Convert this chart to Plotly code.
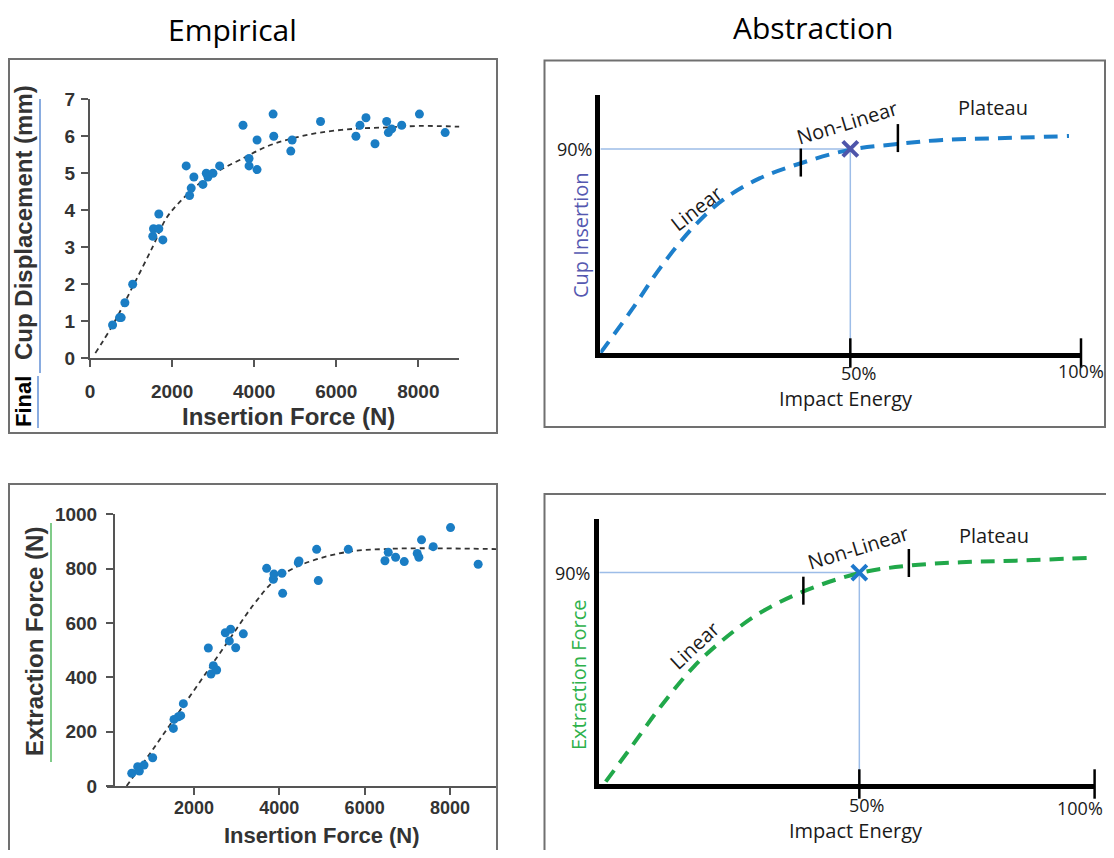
import plotly.graph_objects as go

# The page body keeps its default 8px margin, so the figure is 16px smaller than the window
OX, OY = 8, 8
FW, FH = 1098, 842

# ---------------- data ----------------
# Empirical, top: insertion force (N) vs final cup displacement (mm)
cup_force = [550, 720, 760, 850, 1040, 1530, 1547, 1677, 1677, 1775, 2344, 2426, 2466, 2531,
             2751, 2833, 2873, 2995, 3158, 3728, 3875, 3875, 4070, 4070, 4461, 4477, 4892,
             4925, 5617, 6479, 6577, 6724, 6944, 7228, 7269, 7350, 7594, 8026, 8653]
cup_disp = [0.9, 1.1, 1.1, 1.5, 2.0, 3.3, 3.5, 3.5, 3.9, 3.2, 5.2, 4.4, 4.6, 4.9,
            4.7, 5.0, 4.9, 5.0, 5.2, 6.3, 5.4, 5.2, 5.1, 5.9, 6.6, 6.0, 5.6,
            5.9, 6.4, 6.0, 6.3, 6.5, 5.8, 6.4, 6.1, 6.2, 6.3, 6.6, 6.1]
cup_fit_x = [130, 554, 1042, 1530, 1856, 2182, 2670, 3158, 3647, 4298, 4949, 5600, 6414, 7228, 8042, 9000]
cup_fit_y = [0.14, 0.9, 1.94, 3.02, 3.78, 4.22, 4.73, 5.08, 5.36, 5.72, 5.95, 6.10, 6.20, 6.24, 6.28, 6.26]

# Empirical, bottom: insertion force (N) vs extraction force (N)
ext_force = [540, 680, 719, 828, 1031, 1516, 1531, 1633, 1688, 1750, 2336, 2398, 2453, 2531,
             2734, 2828, 2859, 2977, 3156, 3703, 3859, 3875, 4062, 4078, 4445, 4461, 4875,
             4914, 5617, 6476, 6554, 6726, 6929, 7233, 7272, 7334, 7608, 8014, 8662]
ext_vals = [47, 71, 55, 77, 104, 212, 245, 255, 259, 303, 508, 412, 443, 427,
            564, 534, 577, 509, 560, 801, 761, 780, 783, 709, 822, 828, 871,
            756, 871, 829, 860, 842, 826, 856, 842, 906, 881, 951, 816]
ext_fit_x = [420, 969, 1516, 2141, 2766, 3390, 3859, 4328, 4952, 5655, 6436, 7295, 9080]
ext_fit_y = [0, 120, 243, 384, 525, 666, 752, 801, 838, 863, 872, 875, 872]

cup_xticks = [0, 2000, 4000, 6000, 8000]
cup_yticks = [0, 1, 2, 3, 4, 5, 6, 7]
ext_xticks = [2000, 4000, 6000, 8000]
ext_yticks = [0, 200, 400, 600, 800, 1000]

# Abstraction, top: impact energy (%) vs cup insertion (%)
abs_top_x = [0, 6.5, 12.6, 19.4, 25.5, 33.1, 41.7, 51.8, 61.9, 71.2, 82.6, 97.5]
abs_top_y = [0, 19, 38, 55.7, 67.5, 77, 83.7, 89.6, 92.2, 94, 94.7, 95.7]
abs_top_stage_x = [41.7, 61.9]
abs_top_stage_y = [84.0, 94.8]
abs_top_mark = [52.0, 90.0]

# Abstraction, bottom: impact energy (%) vs extraction force (%)
abs_bot_x = [1.3, 6.5, 12.4, 19.1, 25.0, 32.4, 41.2, 52.7, 62.7, 73.0, 84.1, 98.9]
abs_bot_y = [1, 15.9, 33, 50, 61.4, 72.8, 82, 89.9, 93, 94.4, 95.1, 96.3]
abs_bot_stage_x = [41.2, 62.5]
abs_bot_stage_y = [82.3, 94.1]
abs_bot_mark = [52.5, 90.0]

abs_axis_ticks_top = [52.0, 100]
abs_axis_ticks_bot = [52.5, 100]

# ---------------- helpers (window pixels -> paper fractions) ----------------
def fx(px):
    return (px - OX) / FW

def fy(py):
    return 1 - (py - OY) / FH

DOT = "#1a7dc4"
BLUE_CURVE = "#1d7fcb"
GREEN_CURVE = "#21a84a"
GUIDE = "#9dbde8"
EMP_FONT = "Liberation Sans, Arial, sans-serif"
ABS_FONT = "Open Sans, sans-serif"

fig = go.Figure()

# ---- panel 1
fig.add_trace(go.Scatter(x=cup_fit_x, y=cup_fit_y, mode="lines", line=dict(color="#333333", width=1.8, dash="5px,4px", shape="spline"),
                         xaxis="x", yaxis="y", hoverinfo="skip"))
fig.add_trace(go.Scatter(x=cup_force, y=cup_disp, mode="markers", marker=dict(color=DOT, size=9),
                         xaxis="x", yaxis="y", cliponaxis=False))
# ---- panel 2
fig.add_trace(go.Scatter(x=ext_fit_x, y=ext_fit_y, mode="lines", line=dict(color="#333333", width=1.8, dash="5px,4px", shape="spline"),
                         xaxis="x2", yaxis="y2", hoverinfo="skip"))
fig.add_trace(go.Scatter(x=ext_force, y=ext_vals, mode="markers", marker=dict(color=DOT, size=9),
                         xaxis="x2", yaxis="y2", cliponaxis=False))

# ---- panel 3 / 4 (abstraction)
def abstraction(xa, ya, cx, cy, color, stx, sty, mark, xcolor, axticks):
    fig.add_trace(go.Scatter(x=[0, mark[0], mark[0]], y=[mark[1], mark[1], 0], mode="lines",
                             line=dict(color=GUIDE, width=1.5), xaxis=xa, yaxis=ya, hoverinfo="skip"))
    fig.add_trace(go.Scatter(x=cx, y=cy, mode="lines", line=dict(color=color, width=4, dash="14px,9px", shape="spline"),
                             xaxis=xa, yaxis=ya, cliponaxis=False, hoverinfo="skip"))
    fig.add_trace(go.Scatter(x=stx, y=sty, mode="markers",
                             marker=dict(symbol="line-ns", size=20, line=dict(color="black", width=2.5)),
                             xaxis=xa, yaxis=ya, cliponaxis=False))
    fig.add_trace(go.Scatter(x=axticks, y=[0] * len(axticks), mode="markers",
                             marker=dict(symbol="line-ns", size=21, line=dict(color="black", width=2.5)),
                             xaxis=xa, yaxis=ya, cliponaxis=False))
    fig.add_trace(go.Scatter(x=[mark[0]], y=[mark[1]], mode="markers",
                             marker=dict(symbol="x-thin", size=15, line=dict(color=xcolor, width=4)),
                             xaxis=xa, yaxis=ya, cliponaxis=False))

abstraction("x3", "y3", abs_top_x, abs_top_y, BLUE_CURVE, abs_top_stage_x, abs_top_stage_y, abs_top_mark, "#4e55aa", abs_axis_ticks_top)
abstraction("x4", "y4", abs_bot_x, abs_bot_y, GREEN_CURVE, abs_bot_stage_x, abs_bot_stage_y, abs_bot_mark, "#1e78cc", abs_axis_ticks_bot)

emp_axis = dict(showline=True, linecolor="#555555", linewidth=2, ticks="outside", ticklen=7, tickwidth=1.5,
                tickcolor="#555555", showgrid=False, zeroline=False, automargin=False,
                tickfont=dict(family=EMP_FONT, size=19, color="#333333", weight="bold"))
abs_axis = dict(showline=True, linecolor="black", linewidth=4.5, ticks="", showticklabels=False,
                showgrid=False, zeroline=False, automargin=False)

fig.update_layout(
    width=FW, height=FH, margin=dict(l=0, r=0, t=0, b=0, pad=0, autoexpand=False), autosize=False,
    paper_bgcolor="white", plot_bgcolor="rgba(0,0,0,0)", showlegend=False,
    xaxis=dict(emp_axis, domain=[fx(90), fx(459.4)], range=[0, 9000], anchor="y",
               tickvals=cup_xticks, ticklabelstandoff=8),
    yaxis=dict(emp_axis, domain=[fy(358.3), fy(99.3)], range=[0, 7], anchor="x",
               tickvals=cup_yticks, ticklabelstandoff=2),
    xaxis2=dict(emp_axis, domain=[fx(107), fx(496)], range=[-40, 9080], anchor="y2",
                tickvals=ext_xticks, ticklabelstandoff=-3,
                tickfont=dict(family=EMP_FONT, size=18, color="#333333", weight="bold")),
    yaxis2=dict(emp_axis, domain=[fy(786), fy(514.3)], range=[0, 1000], anchor="free", position=fx(114),
                tickvals=ext_yticks, ticklabelstandoff=5),
    xaxis3=dict(abs_axis, domain=[fx(600.4), fx(1081)], range=[0, 100], anchor="y3"),
    yaxis3=dict(abs_axis, domain=[fy(353), fy(95)], range=[0, 113.8], anchor="x3"),
    xaxis4=dict(abs_axis, domain=[fx(599.3), fx(1094.6)], range=[0, 100], anchor="y4"),
    yaxis4=dict(abs_axis, domain=[fy(784), fy(519.3)], range=[0, 112.7], anchor="x4"),
)

# ---- boxes and underlines
box = dict(type="rect", xref="paper", yref="paper", line=dict(color="#707070", width=2), layer="below")
fig.add_shape(box, x0=fx(9), x1=fx(497), y0=fy(433), y1=fy(59))
fig.add_shape(box, x0=fx(544.5), x1=fx(1105), y0=fy(427), y1=fy(60.5))
fig.add_shape(box, x0=fx(9), x1=fx(497), y0=fy(870), y1=fy(484))
fig.add_shape(box, x0=fx(544.5), x1=fx(1125), y0=fy(870), y1=fy(494))
uline = dict(type="line", xref="paper", yref="paper")
fig.add_shape(uline, x0=fx(40), x1=fx(40), y0=fy(373), y1=fy(99), line=dict(color="#4a7fd0", width=1.3))
fig.add_shape(uline, x0=fx(38), x1=fx(38), y0=fy(428), y1=fy(376), line=dict(color="#4a7fd0", width=1.3))
fig.add_shape(uline, x0=fx(51), x1=fx(51), y0=fy(762), y1=fy(523), line=dict(color="#3cb04a", width=1.3))

def txt(s, px, py, size, family, color="#1a1a1a", angle=0, weight="normal"):
    fig.add_annotation(text=s, x=fx(px), y=fy(py), xref="paper", yref="paper", showarrow=False,
                       xanchor="center", yanchor="middle", textangle=angle,
                       font=dict(family=family, size=size, color=color, weight=weight))

# titles
txt("Empirical", 232, 30, 30, ABS_FONT, "black")
txt("Abstraction", 813, 28, 30, ABS_FONT, "black")

# empirical labels
txt("Cup Displacement (mm)", 23, 223, 24, EMP_FONT, "#333333", -90, "bold")
txt("Final", 23, 402, 22, EMP_FONT, "black", -90, "bold")
txt("Insertion Force (N)", 288, 417, 24, EMP_FONT, "#333333", 0, "bold")
txt("Extraction Force (N)", 34, 642, 24, EMP_FONT, "#333333", -90, "bold")
txt("Insertion Force (N)", 322, 835, 22, EMP_FONT, "#333333", 0, "bold")

# abstraction labels - top
txt("90%", 574, 149, 18, ABS_FONT)
txt("Cup Insertion", 580, 235, 20, ABS_FONT, "#5558b0", -90)
txt("Linear", 696, 208, 20, ABS_FONT, angle=-38)
txt("Non-Linear", 847, 122, 20, ABS_FONT, angle=-17)
txt("Plateau", 993, 107, 20, ABS_FONT)
txt("50%", 858, 373, 18, ABS_FONT)
txt("100%", 1081, 371, 18, ABS_FONT)
txt("Impact Energy", 846, 398, 20, ABS_FONT)

# abstraction labels - bottom
txt("90%", 572, 573, 18, ABS_FONT)
txt("Extraction Force", 578, 675, 20, ABS_FONT, "#2eb14b", -90)
txt("Linear", 694, 645, 20, ABS_FONT, angle=-43)
txt("Non-Linear", 858, 547, 20, ABS_FONT, angle=-17)
txt("Plateau", 994, 535, 20, ABS_FONT)
txt("50%", 866, 805, 18, ABS_FONT)
txt("100%", 1080, 808, 18, ABS_FONT)
txt("Impact Energy", 856, 830, 20, ABS_FONT)

fig.write_html("out.html", config={"displayModeBar": False})
